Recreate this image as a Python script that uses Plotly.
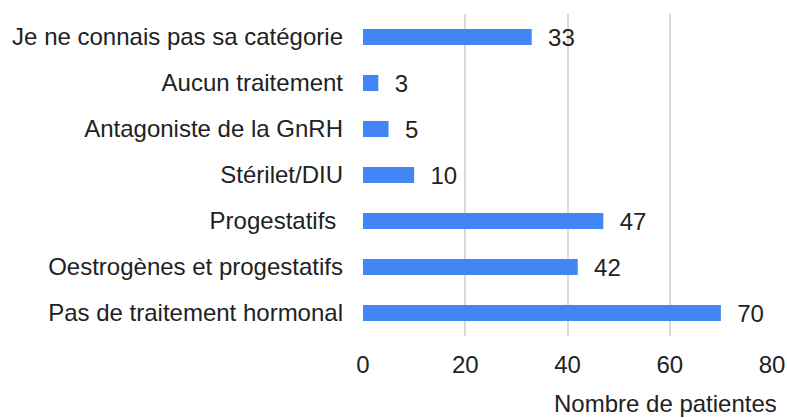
import plotly.graph_objects as go

categories = ["Pas de traitement hormonal", "Oestrogènes et progestatifs", "Progestatifs ",
              "Stérilet/DIU", "Antagoniste de la GnRH", "Aucun traitement",
              "Je ne connais pas sa catégorie"]
values = [70, 42, 47, 10, 5, 3, 33]
x_ticks = [0, 20, 40, 60, 80]
x_title = "Nombre de patientes"

FONT = "Liberation Sans, Arial, sans-serif"
FS = 24

fig = go.Figure(go.Bar(
    x=values, y=categories, orientation="h",
    marker=dict(color="#4285F4", line=dict(width=0)),
    width=0.35,
    text=values, texttemplate="  %{x}", textposition="outside",
    textfont=dict(size=FS, color="#222222", family=FONT),
    constraintext="none",
    cliponaxis=False,
))

fig.update_layout(
    width=787, height=418,
    margin=dict(l=363, r=15, t=14, b=82, autoexpand=False),
    plot_bgcolor="white", paper_bgcolor="white",
    font=dict(family=FONT, size=FS, color="#222222"),
    showlegend=False,
    xaxis=dict(range=[0, 80], tickvals=x_ticks, showgrid=True, gridcolor="#d9d9d9", gridwidth=2,
               zeroline=False, showline=False, ticks="", ticklabelstandoff=12, automargin=False),
    yaxis=dict(showgrid=False, zeroline=False, showline=False, ticks="", ticklabelstandoff=19,
               categoryorder="array", categoryarray=categories, automargin=False),
    annotations=[dict(text=x_title, xref="paper", yref="paper", x=1.018, y=-0.162,
                      xanchor="right", yanchor="top", showarrow=False,
                      font=dict(size=FS, family=FONT, color="#222222"))],
)

fig.write_html("out.html", config={"displayModeBar": False},
               post_script="document.body.style.margin='0';document.body.style.overflow='hidden';")
